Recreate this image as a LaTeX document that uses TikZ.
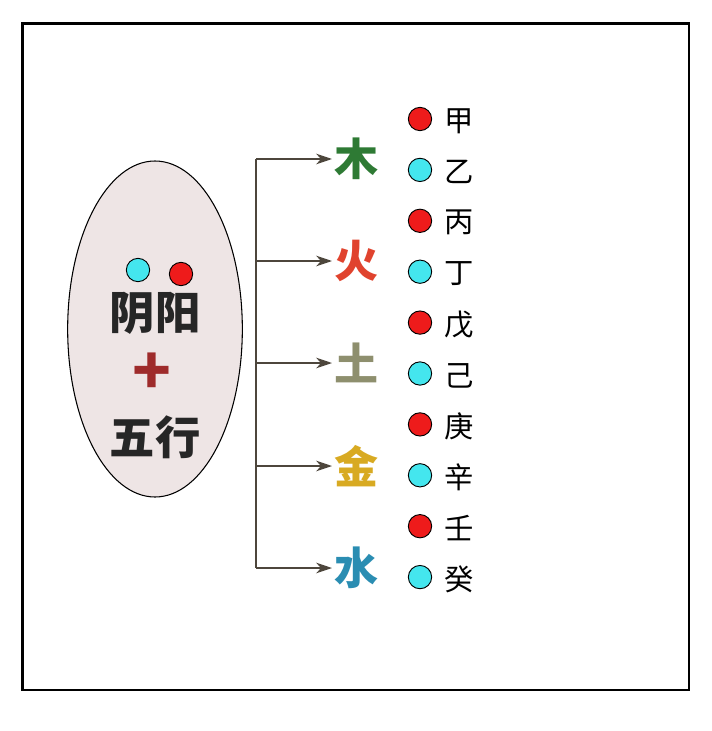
\documentclass[tikz,border=0pt]{standalone}
\usepackage{fontspec}
\newfontfamily\cjk{Noto Sans CJK SC}
\usetikzlibrary{positioning,arrows.meta,shapes.geometric}
\definecolor{mu}{HTML}{2E7A34}
\definecolor{huo}{HTML}{E0432E}
\definecolor{tu}{HTML}{8E8F6E}
\definecolor{jin}{HTML}{D8AA22}
\definecolor{shui}{HTML}{2A8DB2}
\definecolor{yangdot}{HTML}{EE1B1B}
\definecolor{yindot}{HTML}{44E6EE}
\definecolor{plusred}{HTML}{9E2B2B}
\definecolor{arrowgray}{HTML}{4D463C}
\definecolor{eggfill}{HTML}{EEE5E5}
\begin{document}
\begin{tikzpicture}[x=0.75pt,y=-0.75pt,line cap=butt,line join=miter,>={Stealth[length=12pt,width=8pt]},font=\cjk]
		\tikzset{dot/.style={circle,draw=black,line width=0.7pt,minimum size=17.5pt,inner sep=0pt},
			yang/.style={dot,fill=yangdot},yin/.style={dot,fill=yindot},
			element/.style={font=\cjk\bfseries\fontsize{33}{33}\selectfont,inner sep=2pt},
			stem/.style={font=\cjk\fontsize{22}{22}\selectfont,inner sep=0pt},
			link/.style={arrowgray,line width=1.2pt}}
		\useasboundingbox (0,0) rectangle (712,731);
		\draw[line width=1.6pt] (22.5,23.5) rectangle (689,690);
		%--------- 阴阳 + 五行
		\node[ellipse,draw,line width=0.8pt,fill=eggfill,minimum width=131pt,minimum height=252pt] (egg) at (155,329) {};
		\node[font=\cjk\bfseries\fontsize{34}{34}\selectfont,text=black!85] (yinyang) at (155,313) {阴阳};
		\node[yin] (yindot) at (138,270) {};
		\node[yang] (yangdot) at (181,274) {};
		\node[font=\cjk\bfseries\fontsize{48}{48}\selectfont,text=plusred] (plus) at (152,374) {+};
		\node[font=\cjk\bfseries\fontsize{34}{34}\selectfont,text=black!85] (wuxing) at (155,437) {五行};
		%--------- 五行
		\foreach \el/\col/\y [count=\i] in {木/mu/159,火/huo/261,土/tu/363,金/jin/466,水/shui/568}{
			\coordinate (t\i) at (256,\y);
			\node[element,text=\col,anchor=west] (e\i) at (332,\y) {\el};
			\draw[link,->] (t\i) -- (e\i.west);
		}
		\draw[link] (t1) -- (t5);
		%--------- 天干
		\foreach \st [count=\i from 0] in {甲,乙,丙,丁,戊,己,庚,辛,壬,癸}{
			\pgfmathsetmacro{\y}{119+50.9*\i}
			\ifodd\i \node[yin] (d\i) at (420,\y) {};
			\else \node[yang] (d\i) at (420,\y) {};
			\fi
			\node[stem] (s\i) at (459,\y+2) {\st};
		}
	\end{tikzpicture}
\end{document}
